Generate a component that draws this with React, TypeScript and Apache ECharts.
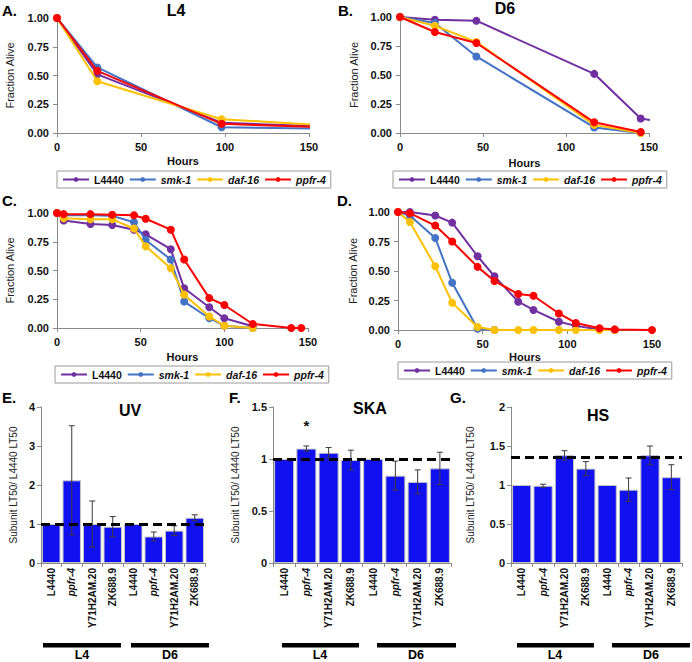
import React, { useEffect, useRef } from "react";
import * as echarts from "echarts";

const FONT = "'Liberation Sans', Arial, Helvetica, sans-serif";

// ---- line panels (survival curves) ----
const strains = ["L4440", "smk-1", "daf-16", "ppfr-4"];
const strainColors = ["#7030A0", "#4472C4", "#FFC000", "#FF0000"];

// Panel A (L4)
const hoursA = [0, 24, 98, 168];
const aL4440 = [1.0, 0.51, 0.09, 0.05];
const aSmk1 = [1.0, 0.57, 0.05, 0.035];
const aDaf16 = [1.0, 0.45, 0.12, 0.06];
const aPpfr4 = [1.0, 0.54, 0.08, 0.045];

// Panel B (D6)
const hoursB = [0, 21, 46, 117, 145, 168];
const bL4440 = [1.0, 0.977, 0.968, 0.51, 0.125, 0.075];
const bSmk1 = [1.0, 0.948, 0.66, 0.048, 0.0, null];
const bDaf16 = [1.0, 0.925, 0.785, 0.07, 0.0, null];
const bPpfr4 = [1.0, 0.871, 0.776, 0.092, 0.009, null];

// Panel C
const hoursC = [0, 4, 20, 33, 46, 53, 68, 76, 91, 100, 117, 140, 146];
const cL4440 = [1.0, 0.935, 0.905, 0.895, 0.855, 0.815, 0.685, 0.345, 0.18, 0.085, 0.015, null, null];
const cSmk1 = [1.0, 0.98, 0.98, 0.975, 0.92, 0.765, 0.595, 0.23, 0.085, 0.02, 0.0, null, null];
const cDaf16 = [1.0, 0.955, 0.945, 0.945, 0.865, 0.71, 0.52, 0.29, 0.1, 0.02, 0.0, null, null];
const cPpfr4 = [1.0, 0.99, 0.99, 0.985, 0.98, 0.95, 0.855, 0.595, 0.26, 0.2, 0.035, 0.0, 0.0];

// Panel D
const hoursD = [0, 7, 22, 32, 47, 57, 71, 80, 95, 105, 119, 128, 150];
const dL4440 = [1.0, 1.0, 0.97, 0.91, 0.625, 0.455, 0.24, 0.17, 0.07, 0.035, 0.005, 0.0, null];
const dSmk1 = [1.0, 0.97, 0.78, 0.4, 0.01, 0.0, null, null, null, null, null, null, null];
const dDaf16 = [1.0, 0.915, 0.54, 0.23, 0.025, 0.0, 0.0, 0.0, 0.0, 0.0, 0.0, 0.0, null];
const dPpfr4 = [1.0, 0.99, 0.885, 0.75, 0.535, 0.415, 0.305, 0.29, 0.14, 0.06, 0.015, 0.005, 0.0];

// ---- bar panels ----
const barCats = ["L4440", "ppfr-4", "Y71H2AM.20", "ZK688.9", "L4440", "ppfr-4", "Y71H2AM.20", "ZK688.9"];
const eVals = [1.0, 2.12, 1.0, 0.93, 1.0, 0.68, 0.83, 1.16];
const eErr = [0, 1.4, 0.59, 0.26, 0, 0.115, 0.125, 0.075];
const fVals = [1.0, 1.1, 1.06, 0.99, 1.0, 0.84, 0.78, 0.91];
const fErr = [0, 0.025, 0.05, 0.095, 0, 0.14, 0.115, 0.155];
const gVals = [1.0, 0.99, 1.38, 1.21, 1.0, 0.94, 1.38, 1.1];
const gErr = [0, 0.02, 0.06, 0.09, 0, 0.15, 0.12, 0.16];
const refLines = [1.0, 1.0, 1.35];
const barTitles = ["UV", "SKA", "HS"];
const barYMax = [4, 1.5, 2];
const barYInterval = [1, 0.5, 0.5];

const lineGrids = [
  { left: 57, top: 18, width: 252, height: 115 },
  { left: 400, top: 17, width: 249, height: 116 },
  { left: 57, top: 213, width: 251, height: 115 },
  { left: 398, top: 212, width: 254, height: 118 },
];
const barGrids = [
  { left: 41, top: 407, width: 164, height: 156 },
  { left: 273, top: 407, width: 178, height: 156 },
  { left: 511, top: 407, width: 171, height: 156 },
];
const barNameGaps = [23, 33, 36];
const legendPos = [
  { left: 57, top: 171 },
  { left: 393, top: 171 },
  { left: 55, top: 366 },
  { left: 398, top: 362 },
];

function buildOption() {
  const grid: any[] = [];
  const xAxis: any[] = [];
  const yAxis: any[] = [];
  const series: any[] = [];
  const legend: any[] = [];

  const axisLineStyle = { color: "#8a8a8a", width: 1 };
  const tickLabel = { fontFamily: FONT, fontWeight: "bold", fontSize: 11, color: "#111" };

  const linePanels = [
    { hours: hoursA, vals: [aL4440, aSmk1, aDaf16, aPpfr4] },
    { hours: hoursB, vals: [bL4440, bSmk1, bDaf16, bPpfr4] },
    { hours: hoursC, vals: [cL4440, cSmk1, cDaf16, cPpfr4] },
    { hours: hoursD, vals: [dL4440, dSmk1, dDaf16, dPpfr4] },
  ];
  const yNameGaps = [42, 41, 42, 40];
  const xNameGaps = [22, 24, 23, 21];

  linePanels.forEach((p, gi) => {
    grid.push({ ...lineGrids[gi], containLabel: false });
    xAxis.push({
      gridIndex: gi,
      type: "value",
      min: 0,
      max: 150,
      interval: 50,
      axisLine: { show: true, onZero: false, lineStyle: axisLineStyle },
      axisTick: { show: true, length: 4, lineStyle: axisLineStyle },
      splitLine: { show: false },
      axisLabel: { ...tickLabel, margin: 8 },
      name: "Hours",
      nameLocation: "middle",
      nameGap: xNameGaps[gi],
      nameTextStyle: { ...tickLabel },
    });
    yAxis.push({
      gridIndex: gi,
      type: "value",
      min: 0,
      max: 1,
      interval: 0.25,
      axisLine: { show: true, lineStyle: axisLineStyle },
      axisTick: { show: true, length: 4, lineStyle: axisLineStyle },
      splitLine: { show: false },
      axisLabel: { ...tickLabel, margin: 8, formatter: (v: number) => v.toFixed(2) },
      name: "Fraction Alive",
      nameLocation: "middle",
      nameGap: yNameGaps[gi],
      nameTextStyle: { fontFamily: FONT, fontSize: 11, color: "#222" },
    });
    p.vals.forEach((vals, k) => {
      const data: any[] = [];
      p.hours.forEach((h, i) => {
        if (vals[i] !== null && vals[i] !== undefined) data.push([h, vals[i]]);
      });
      series.push({
        type: "line",
        name: strains[k],
        xAxisIndex: gi,
        yAxisIndex: gi,
        data,
        symbol: "circle",
        symbolSize: 8,
        showSymbol: true,
        clip: true,
        z: 2 + k,
        lineStyle: { width: 2, color: strainColors[k] },
        itemStyle: { color: strainColors[k] },
      });
    });
    legend.push({
      ...legendPos[gi],
      orient: "horizontal",
      data: strains,
      selectedMode: false,
      itemWidth: 26,
      itemHeight: 6,
      itemGap: 5,
      padding: [3, 5],
      borderColor: "#9a9a9a",
      borderWidth: 1,
      formatter: (n: string) => (n === "L4440" ? n : `{i|${n}}`),
      textStyle: {
        fontFamily: FONT,
        fontSize: 10.5,
        fontWeight: "bold",
        color: "#111",
        rich: { i: { fontFamily: FONT, fontSize: 10.5, fontWeight: "bold", fontStyle: "italic", color: "#111" } },
      },
    });
  });

  const barData = [
    { vals: eVals, errs: eErr },
    { vals: fVals, errs: fErr },
    { vals: gVals, errs: gErr },
  ];
  barData.forEach((b, j) => {
    const gi = 4 + j;
    grid.push({ ...barGrids[j], containLabel: false });
    xAxis.push({
      gridIndex: gi,
      type: "category",
      data: barCats,
      axisLine: { show: true, lineStyle: axisLineStyle },
      axisTick: { show: true, length: 4, alignWithLabel: false, lineStyle: axisLineStyle },
      axisLabel: {
        interval: 0,
        rotate: 90,
        margin: 5,
        fontFamily: FONT,
        fontSize: 10,
        fontWeight: "bold",
        color: "#111",
        formatter: (v: string) => (v === "ppfr-4" ? `{i|${v}}` : v),
        rich: { i: { fontFamily: FONT, fontSize: 10, fontWeight: "bold", fontStyle: "italic", color: "#111" } },
      },
      splitLine: { show: false },
    });
    yAxis.push({
      gridIndex: gi,
      type: "value",
      min: 0,
      max: barYMax[j],
      interval: barYInterval[j],
      axisLine: { show: true, lineStyle: axisLineStyle },
      axisTick: { show: true, length: 4, lineStyle: axisLineStyle },
      splitLine: { show: false },
      axisLabel: { ...tickLabel, margin: 6 },
      name: "Subunit LT50/ L4440 LT50",
      nameLocation: "middle",
      nameGap: barNameGaps[j],
      nameTextStyle: { fontFamily: FONT, fontSize: 10, color: "#222" },
    });
    const barSeries: any = {
      type: "bar",
      name: "bars" + j,
      xAxisIndex: gi,
      yAxisIndex: gi,
      data: b.vals,
      barCategoryGap: "10%",
      itemStyle: { color: "#1010F0", borderColor: "#c4c4c4", borderWidth: 1 },
      z: 2,
    };
    if (j === 1) {
      barSeries.markPoint = {
        silent: true,
        symbol: "circle",
        symbolSize: 1,
        itemStyle: { color: "rgba(0,0,0,0)" },
        label: { show: true, position: "inside", formatter: "*", fontFamily: FONT, fontSize: 15, fontWeight: "bold", color: "#111" },
        data: [{ coord: [1, 1.32] }],
      };
    }
    series.push(barSeries);
    const errData: any[] = [];
    b.vals.forEach((v, i) => {
      if (b.errs[i] > 0) errData.push([i, v - b.errs[i], v + b.errs[i]]);
    });
    series.push({
      type: "custom",
      name: "err" + j,
      xAxisIndex: gi,
      yAxisIndex: gi,
      data: errData,
      encode: { x: 0, y: [1, 2] },
      z: 3,
      renderItem: (params: any, api: any) => {
        const lo = api.coord([api.value(0), api.value(1)]);
        const hi = api.coord([api.value(0), api.value(2)]);
        const w = 3;
        const st = { stroke: "#3a3a3a", lineWidth: 1 };
        return {
          type: "group",
          children: [
            { type: "line", shape: { x1: lo[0], y1: lo[1], x2: hi[0], y2: hi[1] }, style: st },
            { type: "line", shape: { x1: lo[0] - w, y1: lo[1], x2: lo[0] + w, y2: lo[1] }, style: st },
            { type: "line", shape: { x1: hi[0] - w, y1: hi[1], x2: hi[0] + w, y2: hi[1] }, style: st },
          ],
        };
      },
      markLine: {
        silent: true,
        symbol: "none",
        label: { show: false },
        lineStyle: { color: "#000", width: 3, type: [9, 5] },
        data: [{ yAxis: refLines[j] }],
      },
    });
  });

  const txt = (text: string, x: number, y: number, size: number, align = "left") => ({
    type: "text",
    x,
    y,
    silent: true,
    style: {
      text,
      fill: "#000",
      fontFamily: FONT,
      fontSize: size,
      fontWeight: "bold",
      align,
      verticalAlign: "middle",
    },
  });
  const rect = (x: number, y: number, w: number, h: number) => ({
    type: "rect",
    silent: true,
    shape: { x, y, width: w, height: h },
    style: { fill: "#000" },
  });

  const graphic: any[] = [
    txt("A.", 2, 10, 15),
    txt("B.", 338, 10, 15),
    txt("C.", 2, 200, 15),
    txt("D.", 337, 200, 15),
    txt("E.", 2, 397, 15),
    txt("F.", 229, 397, 15),
    txt("G.", 450, 397, 15),
    txt("L4", 176, 10, 16, "center"),
    txt("D6", 505, 8, 16, "center"),
    txt(barTitles[0], 130, 410, 16, "center"),
    txt(barTitles[1], 370, 408, 16, "center"),
    txt(barTitles[2], 598, 415, 16, "center"),
    rect(43, 643, 78, 4.5),
    rect(131, 643, 78, 4.5),
    rect(282, 643, 77, 4.5),
    rect(377, 643, 79, 4.5),
    rect(517, 643, 77, 4.5),
    rect(612, 643, 78, 4.5),
    txt("L4", 82, 655, 12.5, "center"),
    txt("D6", 170, 655, 12.5, "center"),
    txt("L4", 320, 655, 12.5, "center"),
    txt("D6", 416, 655, 12.5, "center"),
    txt("L4", 555, 655, 12.5, "center"),
    txt("D6", 651, 655, 12.5, "center"),
  ];

  return {
    animation: false,
    backgroundColor: "#ffffff",
    textStyle: { fontFamily: FONT },
    grid,
    xAxis,
    yAxis,
    legend,
    series,
    graphic,
  };
}

export default function App() {
  const ref = useRef<HTMLDivElement>(null);
  useEffect(() => {
    if (!ref.current) return;
    const chart = echarts.init(ref.current, null, { renderer: "svg" });
    chart.setOption(buildOption() as any);
    return () => chart.dispose();
  }, []);
  return (
    <div
      ref={ref}
      style={{ position: "absolute", left: 0, top: 0, width: 692, height: 662, background: "#fff" }}
    />
  );
}
